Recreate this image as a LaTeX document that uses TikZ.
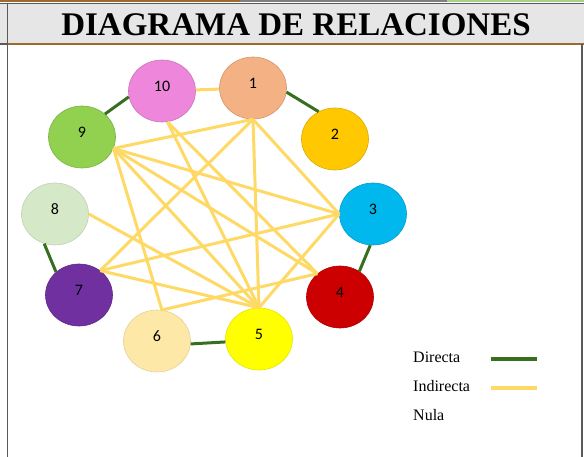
\documentclass[tikz,border=0pt]{standalone}
\usepackage{fontspec}
\setmainfont{Liberation Serif}
\newfontfamily\numfont{Carlito}
\usetikzlibrary{shapes.geometric}
\definecolor{cone}{RGB}{244,177,131}
\definecolor{ctwo}{RGB}{255,200,0}
\definecolor{cthree}{RGB}{0,184,238}
\definecolor{cfour}{RGB}{204,0,0}
\definecolor{cfive}{RGB}{255,255,0}
\definecolor{csix}{RGB}{253,232,168}
\definecolor{cseven}{RGB}{112,48,160}
\definecolor{ceight}{RGB}{213,232,200}
\definecolor{cnine}{RGB}{146,208,80}
\definecolor{cten}{RGB}{238,135,220}
\definecolor{indir}{RGB}{255,217,102}
\definecolor{direc}{RGB}{56,110,32}
\definecolor{frame}{RGB}{90,90,90}
\definecolor{brownline}{RGB}{156,107,48}
\definecolor{titlefill}{RGB}{231,230,230}
\definecolor{topgreen}{RGB}{169,209,142}
\begin{document}
\begin{tikzpicture}[x=1pt,y=-1pt,
  bubble/.style={ellipse, minimum width=67pt, minimum height=62pt, inner sep=0pt,
    text height=10pt, text depth=9pt, font=\numfont\fontsize{16}{16}\selectfont, line width=0.6pt},
  indline/.style={indir, line width=3pt},
  dirline/.style={direc, line width=3pt},
  legtext/.style={anchor=base west, font=\fontsize{16}{16}\selectfont, inner sep=0pt}]
\useasboundingbox (0,0) rectangle (584,457);
% frame
\fill[titlefill] (0,3.7) rectangle (584,44);
\draw[brownline, line width=2pt] (0,1) -- (240,1);
\draw[gray, line width=2pt] (240,1) -- (447,1);
\draw[topgreen, line width=2pt] (447,1) -- (584,1);
\draw[frame, line width=1.5pt] (0,3.7) -- (584,3.7);
\draw[frame, line width=1.5pt] (0,44) -- (7.4,44);
\draw[brownline, line width=2pt] (7.4,44) -- (584,44);
\draw[frame, line width=1.7pt] (7.4,3.7) -- (7.4,457);
\draw[frame, line width=1.7pt] (581.7,44) -- (581.7,457);
\node[anchor=base, inner sep=0pt, font=\bfseries\fontsize{33}{33}\selectfont] (title) at (296,36) {DIAGRAMA DE RELACIONES};
% nodes
\node[bubble, fill=cone, draw=cone!85!black] (n1) at (253,88) {1};
\node[bubble, fill=ctwo, draw=ctwo!85!black] (n2) at (335,139) {2};
\node[bubble, fill=cthree, draw=cthree!85!black] (n3) at (373,214) {3};
\node[bubble, fill=cfour, draw=cfour!85!black] (n4) at (340,297) {4};
\node[bubble, fill=cfive, draw=cfive!90!black] (n5) at (259,339) {5};
\node[bubble, fill=csix, draw=csix!90!black] (n6) at (157,341) {6};
\node[bubble, fill=cseven, draw=cseven!85!black] (n7) at (79,295) {7};
\node[bubble, fill=ceight, draw=ceight!90!black] (n8) at (55,214) {8};
\node[bubble, fill=cnine, draw=cnine!85!black] (n9) at (82,137) {9};
\node[bubble, fill=cten, draw=cten!85!black] (n10) at (162,91) {10};
% indirect relations
\draw[indline] (n10) -- (n1);
\draw[indline] (n9.-20) -- (n1.south);
\draw[indline] (n9.-20) -- (n3.west);
\draw[indline] (n9.-20) -- (n4.134);
\draw[indline] (n9.-20) -- (n5.north);
\draw[indline] (n9.-20) -- (n6.81);
\draw[indline] (n10.-80) -- (n5.north);
\draw[indline] (n10.-80) -- (n4.134);
\draw[indline] (n1.south) -- (n7.49);
\draw[indline] (n1.south) -- (n5.north);
\draw[indline] (n1.south) -- (n3.west);
\draw[indline] (n8.east) -- (n5.north);
\draw[indline] (n7.49) -- (n3.west);
\draw[indline] (n7.49) -- (n5.north);
\draw[indline] (n6.81) -- (n4.134);
\draw[indline] (n3.west) -- (n5.north);
% direct relations
\draw[dirline] (n10.190) -- (n9.45);
\draw[dirline] (n1.-7) -- (n2.121);
\draw[dirline] (n3.265) -- (n4.53);
\draw[dirline] (n6.-5) -- (n5.185);
\draw[dirline] (n8.250) -- (n7.135);
% legend
\node[legtext] (ld) at (413,362) {Directa};
\node[legtext] (li) at (413,391) {Indirecta};
\node[legtext] (ln) at (413,420) {Nula};
\coordinate (ld1) at (491,359);
\coordinate (ld2) at (537,359);
\coordinate (li1) at (491,388);
\coordinate (li2) at (537,388);
\draw[direc, line width=4pt] (ld1) -- (ld2);
\draw[indir, line width=4pt] (li1) -- (li2);
\end{tikzpicture}
\end{document}
